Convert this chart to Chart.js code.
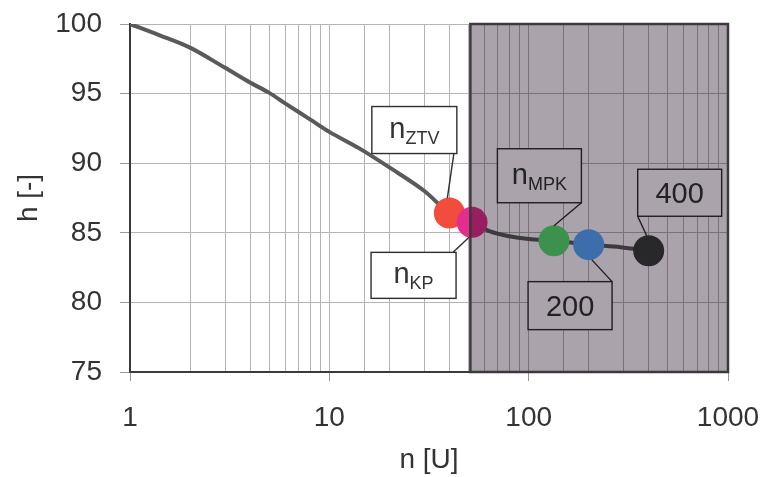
<!DOCTYPE html>
<html>
<head>
<meta charset="utf-8">
<script src="https://cdn.jsdelivr.net/npm/chart.js@4"></script>
<style>
  html, body { margin: 0; padding: 0; background: #fff; }
  canvas { display: block; }
</style>
</head>
<body>
<canvas id="c" width="765" height="477"></canvas>
<script>
// Efficiency h over number of units n
const curveN = [1, 1.4, 2, 3, 4, 5, 6, 8, 10, 14, 20, 30, 40, 52, 64, 80, 100, 134, 200, 290, 400];
const curveH = [100, 99.2, 98.3, 96.85, 95.8, 95.05, 94.3, 93.15, 92.25, 91.1, 89.7, 88.0, 86.42, 85.75, 85.1, 84.75, 84.55, 84.43, 84.15, 83.96, 83.71];

// Highlighted operating points
const markN = [40, 52, 134, 200, 400];
const markH = [86.42, 85.75, 84.43, 84.15, 83.71];
const markMain = ['n', 'n', 'n', '200', '400'];
const markSub = ['ZTV', 'KP', 'MPK', '', ''];
const markColors = ['#f24c3c', '#e42e8e', '#5ae372', '#5aacff', '#3c3d3c'];

const xTickValues = [1, 10, 100, 1000];
const yMin = 75, yMax = 100, yStep = 5;
const shadeFrom = 51;          // start of the shaded range of n
const xTitle = 'n [U]';
const yTitle = 'h [-]';

const FONT = '"Liberation Sans", Arial, Helvetica, sans-serif';
const TEXT = '#333333';

// Callout boxes, placed relative to their marker (pixels)
const callouts = [
  { dx: -35,   dy: -83, w: 85, h: 47, ax: 'r', ay: 'b', axo: -3, ex: -2, ey: -15 },
  { dx: -58.5, dy: 53,  w: 85, h: 46, ax: 'r', ay: 't', axo: -3, ex: -3, ey: 15 },
  { dx: -14.6, dy: -65, w: 84, h: 54, ax: 'r', ay: 'b', axo: 0,  ex: 0,  ey: -15 },
  { dx: -18.6, dy: 61,  w: 84, h: 48, ax: 'r', ay: 't', axo: 0,  ex: 3,  ey: 15 },
  { dx: 31,    dy: -58, w: 84, h: 47, ax: 'l', ay: 'b', axo: 0,  ex: -2, ey: -15 }
];

const isDecade = v => Math.abs(Math.log10(v) - Math.round(Math.log10(v))) < 1e-9;

const annotate = {
  id: 'annotate',
  beforeDraw(chart) {
    const ctx = chart.ctx;
    ctx.save();
    ctx.fillStyle = '#ffffff';
    ctx.fillRect(0, 0, chart.width, chart.height);
    ctx.restore();
  },
  afterDatasetsDraw(chart) {
    const ctx = chart.ctx;
    const xs = chart.scales.x, ys = chart.scales.y, area = chart.chartArea;
    ctx.save();
    markN.forEach((n, i) => {
      const px = xs.getPixelForValue(n);
      const py = ys.getPixelForValue(markH[i]);
      const c = callouts[i];
      const cx = px + c.dx, cy = py + c.dy;
      const l = cx - c.w / 2, t = cy - c.h / 2;
      const axp = (c.ax === 'r' ? l + c.w : l) + c.axo;
      const ayp = c.ay === 'b' ? t + c.h : t;
      ctx.strokeStyle = '#2e2e2e';
      ctx.lineWidth = 1.4;
      ctx.beginPath();
      ctx.moveTo(axp, ayp);
      ctx.lineTo(px + c.ex, py + c.ey);
      ctx.stroke();
      ctx.fillStyle = '#ffffff';
      ctx.fillRect(l, t, c.w, c.h);
      ctx.strokeRect(l, t, c.w, c.h);
      ctx.fillStyle = TEXT;
      ctx.textBaseline = 'alphabetic';
      ctx.textAlign = 'left';
      if (markSub[i]) {
        ctx.font = '29px ' + FONT;
        const w1 = ctx.measureText(markMain[i]).width;
        ctx.font = '18px ' + FONT;
        const w2 = ctx.measureText(markSub[i]).width;
        const x0 = cx - (w1 + w2) / 2;
        ctx.font = '29px ' + FONT;
        ctx.fillText(markMain[i], x0, cy + 8);
        ctx.font = '18px ' + FONT;
        ctx.fillText(markSub[i], x0 + w1, cy + 14);
      } else {
        ctx.font = '29px ' + FONT;
        ctx.textAlign = 'center';
        ctx.fillText(markMain[i], cx, cy + 10);
      }
    });

    // shaded range of n
    const x0 = xs.getPixelForValue(shadeFrom);
    ctx.globalCompositeOperation = 'multiply';
    ctx.fillStyle = '#aaa3ab';
    ctx.fillRect(x0, area.top, area.right - x0, area.bottom - area.top);
    ctx.globalCompositeOperation = 'source-over';
    ctx.strokeStyle = '#3a3a3a';
    ctx.lineWidth = 2.5;
    ctx.strokeRect(x0, area.top, area.right - x0, area.bottom - area.top);
    ctx.restore();
  }
};

new Chart(document.getElementById('c'), {
  type: 'scatter',
  data: {
    datasets: [
      {
        data: markN.map((n, i) => ({ x: n, y: markH[i] })),
        pointRadius: 15.5,
        pointHoverRadius: 15.5,
        pointBackgroundColor: markColors,
        pointBorderWidth: 0,
        showLine: false
      },
      {
        data: curveN.map((n, i) => ({ x: n, y: curveH[i] })),
        showLine: true,
        borderColor: '#5a5a5a',
        borderWidth: 4,
        pointRadius: 0,
        cubicInterpolationMode: 'monotone'
      }
    ]
  },
  options: {
    responsive: false,
    animation: false,
    devicePixelRatio: 1,
    events: [],
    layout: { padding: { top: 24, right: 37, left: 0, bottom: 0 } },
    plugins: { legend: { display: false }, tooltip: { enabled: false } },
    scales: {
      x: {
        type: 'logarithmic',
        min: 1,
        max: 1000,
        afterFit(s) { s.height = 105; s.paddingLeft = 0; s.paddingRight = 0; },
        ticks: {
          autoSkip: false,
          maxRotation: 0,
          padding: 20,
          color: TEXT,
          font: { size: 28, family: FONT },
          callback: v => (isDecade(v) && xTickValues.includes(Math.round(v))) ? String(Math.round(v)) : ''
        },
        grid: {
          color: '#b4b4b4',
          lineWidth: 1,
          tickLength: 9,
          tickColor: ctx => (ctx.tick && isDecade(ctx.tick.value)) ? '#9a9a9a' : 'rgba(0,0,0,0)'
        },
        border: { color: '#3a3a3a', width: 2 },
        title: { display: true, text: xTitle, color: TEXT, font: { size: 28, family: FONT }, padding: { top: 0, bottom: 0 } }
      },
      y: {
        min: yMin,
        max: yMax,
        afterFit(s) { s.width = 130; s.paddingTop = 0; s.paddingBottom = 0; },
        ticks: {
          stepSize: yStep,
          padding: 18,
          color: TEXT,
          font: { size: 28, family: FONT }
        },
        grid: { color: '#b4b4b4', lineWidth: 1, tickLength: 10, tickColor: '#9a9a9a' },
        border: { color: '#3a3a3a', width: 2 },
        title: { display: true, text: yTitle, color: TEXT, font: { size: 28, family: FONT }, padding: { top: 12, bottom: 0 } }
      }
    }
  },
  plugins: [annotate]
});
</script>
</body>
</html>
